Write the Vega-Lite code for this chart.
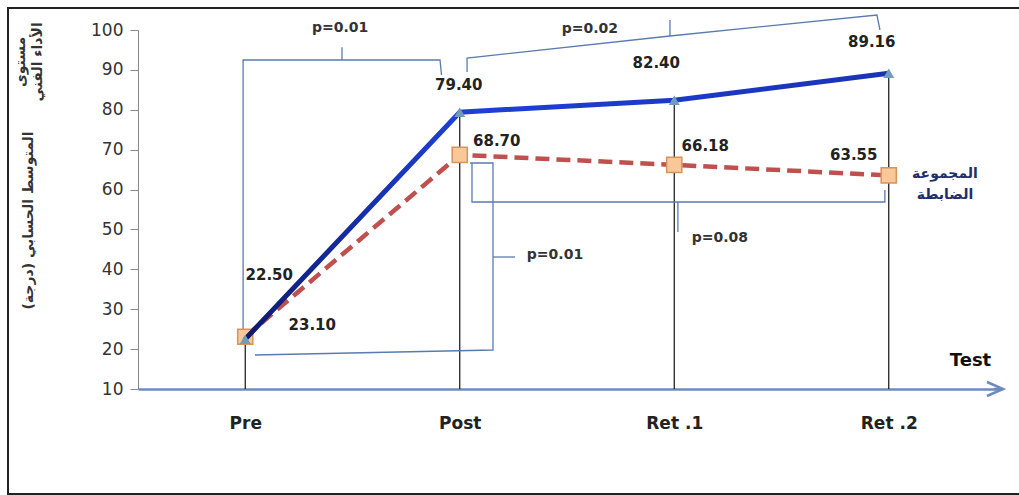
{
  "$schema": "https://vega.github.io/schema/vega-lite/v6.json",
  "width": 858,
  "height": 359,
  "autosize": {"type": "none"},
  "padding": {"left": 138, "top": 30, "right": 23, "bottom": 106},
  "background": "white",
  "config": {
    "view": {"stroke": null},
    "axisX": {"domainColor": "#6d8bbf", "domainWidth": 2.5, "ticks": false, "grid": false, "labelFont": "DejaVu Sans", "labelFontWeight": "bold", "labelFontSize": 17, "labelColor": "#222", "labelPadding": 26, "labelAngle": 0, "labelOverlap": false, "titleFont": "DejaVu Sans", "titleFontSize": 18, "titleFontWeight": "bold", "titleColor": "#111", "titleX": 832, "titleY": -29, "titleAlign": "center", "titleBaseline": "middle"},
    "axisY": {"domainColor": "#888", "ticks": true, "tickColor": "#888", "tickWidth": 1, "tickSize": 8, "grid": false, "labelFont": "DejaVu Sans", "labelFontSize": 17, "labelColor": "#333", "labelPadding": 7, "labelOverlap": false, "labelFlush": false, "titleFont": "DejaVu Sans", "titleFontSize": 14, "titleFontWeight": "bold", "titleColor": "#333", "titleX": -110, "titleY": 190, "titleAlign": "center", "titleBaseline": "middle"}
  },
  "datasets": {
    "scores": [
      {"test": "Pre", "idx": 0, "group": "exp", "value": 22.5},
      {"test": "Post", "idx": 1, "group": "exp", "value": 79.4},
      {"test": "Ret .1", "idx": 2, "group": "exp", "value": 82.4},
      {"test": "Ret .2", "idx": 3, "group": "exp", "value": 89.16},
      {"test": "Pre", "idx": 0, "group": "ctrl", "value": 23.1},
      {"test": "Post", "idx": 1, "group": "ctrl", "value": 68.7},
      {"test": "Ret .1", "idx": 2, "group": "ctrl", "value": 66.18},
      {"test": "Ret .2", "idx": 3, "group": "ctrl", "value": 63.55}
    ],
    "brackets": [
      {"path": "A", "i": 0, "x": -0.01, "y": 24.8},
      {"path": "A", "i": 1, "x": -0.01, "y": 92.48},
      {"path": "A", "i": 2, "x": 0.908, "y": 92.48},
      {"path": "A", "i": 3, "x": 0.915, "y": 88.7},
      {"path": "At", "i": 0, "x": 0.451, "y": 92.48},
      {"path": "At", "i": 1, "x": 0.451, "y": 95.7},
      {"path": "B", "i": 0, "x": 1.034, "y": 89.47},
      {"path": "B", "i": 1, "x": 1.034, "y": 92.98},
      {"path": "B", "i": 2, "x": 1.98, "y": 98.5},
      {"path": "B", "i": 3, "x": 2.945, "y": 103.76},
      {"path": "B", "i": 4, "x": 2.959, "y": 100.0},
      {"path": "Bt", "i": 0, "x": 1.98, "y": 98.5},
      {"path": "Bt", "i": 1, "x": 1.98, "y": 102.5},
      {"path": "C", "i": 0, "x": 1.057, "y": 66.66},
      {"path": "C", "i": 1, "x": 1.057, "y": 56.88},
      {"path": "C", "i": 2, "x": 2.982, "y": 56.88},
      {"path": "C", "i": 3, "x": 2.982, "y": 59.89},
      {"path": "Ct", "i": 0, "x": 2.017, "y": 56.88},
      {"path": "Ct", "i": 1, "x": 2.017, "y": 49.36},
      {"path": "D", "i": 0, "x": 1.048, "y": 66.66},
      {"path": "D", "i": 1, "x": 1.155, "y": 66.66},
      {"path": "D", "i": 2, "x": 1.155, "y": 19.78},
      {"path": "D", "i": 3, "x": 0.045, "y": 18.52},
      {"path": "Dt", "i": 0, "x": 1.155, "y": 43.09},
      {"path": "Dt", "i": 1, "x": 1.258, "y": 43.09}
    ],
    "arrow": [
      {"path": "head", "i": 0, "x": 3.458, "y": 11.75},
      {"path": "head", "i": 1, "x": 3.533, "y": 10.0},
      {"path": "head", "i": 2, "x": 3.458, "y": 8.25},
      {"path": "shaft", "i": 0, "x": 3.49, "y": 10.0},
      {"path": "shaft", "i": 1, "x": 3.533, "y": 10.0}
    ],
    "pvalues": [
      {"label": "p=0.01", "x": 0.442, "y": 100.5},
      {"label": "p=0.02", "x": 1.607, "y": 100.25},
      {"label": "p=0.08", "x": 2.213, "y": 47.86},
      {"label": "p=0.01", "x": 1.444, "y": 43.6}
    ],
    "notes": [
      {"label": "مستوى\nالأداء الفني", "x": -1.045, "y": 92.0, "kind": "title"},
      {"label": "المجموعة\nالضابطة", "x": 3.262, "y": 63.9, "kind": "legend"}
    ],
    "frame": [
      {"x1": -1.106, "x2": 3.9, "y1": 105.5, "y2": -16.3}
    ]
  },
  "layer": [
    {
      "data": {"name": "scores"},
      "transform": [{"filter": "datum.group === 'exp'"}],
      "mark": {"type": "rule", "color": "#111", "strokeWidth": 1.2},
      "encoding": {
        "x": {"field": "idx", "type": "quantitative", "scale": {"domain": [-0.5, 3.5], "nice": false, "zero": false}, "axis": {"values": [0, 1, 2, 3], "labelExpr": "['Pre','Post','Ret .1','Ret .2'][datum.value]"}, "title": "Test"},
        "y": {"field": "value", "type": "quantitative", "scale": {"domain": [10, 100], "nice": false, "zero": false}, "axis": {"values": [10, 20, 30, 40, 50, 60, 70, 80, 90, 100], "tickCount": 10, "labelOverlap": false}, "title": "المتوسط الحسابي (درجة)"},
        "y2": {"datum": 10}
      }
    },
    {
      "data": {"name": "frame"},
      "mark": {"type": "rect", "filled": false, "stroke": "#222", "strokeWidth": 2},
      "encoding": {
        "x": {"field": "x1", "type": "quantitative"},
        "x2": {"field": "x2"},
        "y": {"field": "y1", "type": "quantitative"},
        "y2": {"field": "y2"}
      }
    },
    {
      "data": {"name": "brackets"},
      "mark": {"type": "line", "color": "#5a7bb0", "strokeWidth": 1.3},
      "encoding": {
        "x": {"field": "x", "type": "quantitative"},
        "y": {"field": "y", "type": "quantitative"},
        "detail": {"field": "path"},
        "order": {"field": "i"}
      }
    },
    {
      "data": {"name": "arrow"},
      "mark": {"type": "line", "color": "#6d8bbf", "strokeWidth": 2.5},
      "encoding": {
        "x": {"field": "x", "type": "quantitative"},
        "y": {"field": "y", "type": "quantitative"},
        "detail": {"field": "path"},
        "order": {"field": "i"}
      }
    },
    {
      "data": {"name": "scores"},
      "transform": [{"filter": "datum.group === 'ctrl'"}],
      "mark": {"type": "line", "color": "#c0504d", "strokeWidth": 4.5, "strokeDash": [14, 7]},
      "encoding": {
        "x": {"field": "idx", "type": "quantitative"},
        "y": {"field": "value", "type": "quantitative"}
      }
    },
    {
      "data": {"name": "scores"},
      "transform": [{"filter": "datum.group === 'ctrl'"}],
      "mark": {"type": "point", "shape": "square", "size": 230, "filled": true, "fill": "#f8c898", "stroke": "#d9925a", "strokeWidth": 1.5, "opacity": 1},
      "encoding": {
        "x": {"field": "idx", "type": "quantitative"},
        "y": {"field": "value", "type": "quantitative"}
      }
    },
    {
      "data": {"name": "scores"},
      "transform": [{"filter": "datum.group === 'exp'"}],
      "mark": {"type": "line", "strokeWidth": 5, "color": {"gradient": "linear", "x1": 0, "y1": 0, "x2": 1, "y2": 0, "stops": [{"offset": 0, "color": "#0d1a6e"}, {"offset": 0.33, "color": "#1e40d8"}, {"offset": 1, "color": "#1a33b5"}]}},
      "encoding": {
        "x": {"field": "idx", "type": "quantitative"},
        "y": {"field": "value", "type": "quantitative"}
      }
    },
    {
      "data": {"name": "scores"},
      "transform": [{"filter": "datum.group === 'exp'"}],
      "mark": {"type": "point", "shape": "triangle-up", "size": 120, "filled": true, "fill": "#6f9cb8", "opacity": 1},
      "encoding": {
        "x": {"field": "idx", "type": "quantitative"},
        "y": {"field": "value", "type": "quantitative"}
      }
    },
    {
      "data": {"name": "scores"},
      "transform": [{"filter": "datum.group === 'exp' && datum.test === 'Pre'"}],
      "mark": {"type": "text", "dx": 24, "dy": -64, "font": "DejaVu Sans", "fontWeight": "bold", "fontSize": 15, "color": "#222"},
      "encoding": {"x": {"field": "idx", "type": "quantitative"}, "y": {"field": "value", "type": "quantitative"}, "text": {"field": "value", "type": "quantitative", "format": ".2f"}}
    },
    {
      "data": {"name": "scores"},
      "transform": [{"filter": "datum.group === 'exp' && datum.test === 'Post'"}],
      "mark": {"type": "text", "dx": -1, "dy": -27, "font": "DejaVu Sans", "fontWeight": "bold", "fontSize": 15, "color": "#222"},
      "encoding": {"x": {"field": "idx", "type": "quantitative"}, "y": {"field": "value", "type": "quantitative"}, "text": {"field": "value", "type": "quantitative", "format": ".2f"}}
    },
    {
      "data": {"name": "scores"},
      "transform": [{"filter": "datum.group === 'exp' && datum.test === 'Ret .1'"}],
      "mark": {"type": "text", "dx": -18, "dy": -37, "font": "DejaVu Sans", "fontWeight": "bold", "fontSize": 15, "color": "#222"},
      "encoding": {"x": {"field": "idx", "type": "quantitative"}, "y": {"field": "value", "type": "quantitative"}, "text": {"field": "value", "type": "quantitative", "format": ".2f"}}
    },
    {
      "data": {"name": "scores"},
      "transform": [{"filter": "datum.group === 'exp' && datum.test === 'Ret .2'"}],
      "mark": {"type": "text", "dx": -17, "dy": -31, "font": "DejaVu Sans", "fontWeight": "bold", "fontSize": 15, "color": "#222"},
      "encoding": {"x": {"field": "idx", "type": "quantitative"}, "y": {"field": "value", "type": "quantitative"}, "text": {"field": "value", "type": "quantitative", "format": ".2f"}}
    },
    {
      "data": {"name": "scores"},
      "transform": [{"filter": "datum.group === 'ctrl' && datum.test === 'Pre'"}],
      "mark": {"type": "text", "dx": 67, "dy": -12, "font": "DejaVu Sans", "fontWeight": "bold", "fontSize": 15, "color": "#222"},
      "encoding": {"x": {"field": "idx", "type": "quantitative"}, "y": {"field": "value", "type": "quantitative"}, "text": {"field": "value", "type": "quantitative", "format": ".2f"}}
    },
    {
      "data": {"name": "scores"},
      "transform": [{"filter": "datum.group === 'ctrl' && datum.test === 'Post'"}],
      "mark": {"type": "text", "dx": 37, "dy": -14, "font": "DejaVu Sans", "fontWeight": "bold", "fontSize": 15, "color": "#222"},
      "encoding": {"x": {"field": "idx", "type": "quantitative"}, "y": {"field": "value", "type": "quantitative"}, "text": {"field": "value", "type": "quantitative", "format": ".2f"}}
    },
    {
      "data": {"name": "scores"},
      "transform": [{"filter": "datum.group === 'ctrl' && datum.test === 'Ret .1'"}],
      "mark": {"type": "text", "dx": 31, "dy": -19, "font": "DejaVu Sans", "fontWeight": "bold", "fontSize": 15, "color": "#222"},
      "encoding": {"x": {"field": "idx", "type": "quantitative"}, "y": {"field": "value", "type": "quantitative"}, "text": {"field": "value", "type": "quantitative", "format": ".2f"}}
    },
    {
      "data": {"name": "scores"},
      "transform": [{"filter": "datum.group === 'ctrl' && datum.test === 'Ret .2'"}],
      "mark": {"type": "text", "dx": -35, "dy": -20, "font": "DejaVu Sans", "fontWeight": "bold", "fontSize": 15, "color": "#222"},
      "encoding": {"x": {"field": "idx", "type": "quantitative"}, "y": {"field": "value", "type": "quantitative"}, "text": {"field": "value", "type": "quantitative", "format": ".2f"}}
    },
    {
      "data": {"name": "pvalues"},
      "mark": {"type": "text", "font": "DejaVu Sans", "fontWeight": "bold", "fontSize": 14, "color": "#333"},
      "encoding": {
        "x": {"field": "x", "type": "quantitative"},
        "y": {"field": "y", "type": "quantitative"},
        "text": {"field": "label"}
      }
    },
    {
      "data": {"name": "notes"},
      "transform": [{"filter": "datum.kind === 'title'"}],
      "mark": {"type": "text", "angle": 270, "lineBreak": "\n", "lineHeight": 17, "font": "DejaVu Sans", "fontWeight": "bold", "fontSize": 14, "color": "#333"},
      "encoding": {
        "x": {"field": "x", "type": "quantitative"},
        "y": {"field": "y", "type": "quantitative"},
        "text": {"field": "label"}
      }
    },
    {
      "data": {"name": "notes"},
      "transform": [{"filter": "datum.kind === 'legend'"}],
      "mark": {"type": "text", "lineBreak": "\n", "lineHeight": 21, "font": "DejaVu Sans", "fontWeight": "bold", "fontSize": 14, "color": "#1f2d6b"},
      "encoding": {
        "x": {"field": "x", "type": "quantitative"},
        "y": {"field": "y", "type": "quantitative"},
        "text": {"field": "label"}
      }
    }
  ]
}
